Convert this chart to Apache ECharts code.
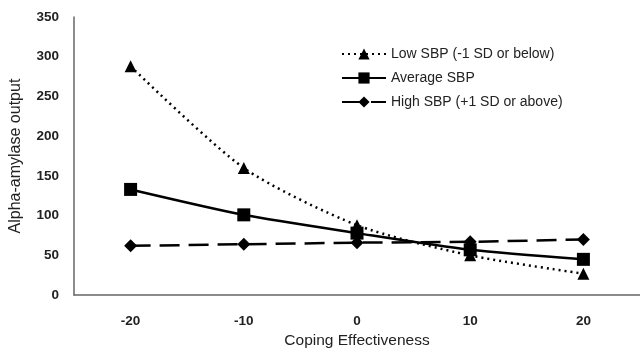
<!DOCTYPE html>
<html><head><meta charset="utf-8">
<script src="https://cdn.jsdelivr.net/npm/echarts@6/dist/echarts.min.js"></script>
<style>html,body{margin:0;padding:0;background:#fff}#c{width:640px;height:354px}</style>
</head><body><div id="c"></div>
<script>
const categories = ['-20', '-10', '0', '10', '20'];
const lowSBP = [288, 160, 88, 50, 27];
const avgSBP = [133, 101, 78, 57, 45];
const highSBP = [62, 64, 66, 67, 70];
const yTicks = [0, 50, 100, 150, 200, 250, 300, 350];

const chart = echarts.init(document.getElementById('c'));
chart.setOption({
  animation: false,
  backgroundColor: '#fff',
  textStyle: { fontFamily: 'Liberation Sans, Arial, sans-serif' },
  grid: { left: 70, right: -3, top: 17, bottom: 55, containLabel: false },
  legend: {
    orient: 'vertical', left: 336, top: 42, itemGap: 10, itemWidth: 44, itemHeight: 14,
    textStyle: { fontSize: 14, color: '#222' },
    data: ['Low SBP (-1 SD or below)', 'Average SBP', 'High SBP (+1 SD or above)']
  },
  xAxis: {
    type: 'category', data: categories, boundaryGap: true,
    name: 'Coping Effectiveness', nameLocation: 'middle', nameGap: 37,
    nameTextStyle: { fontSize: 15.5, color: '#222' },
    axisLine: { lineStyle: { color: '#666', width: 1.5 } },
    axisTick: { show: false },
    axisLabel: { fontSize: 13.5, fontWeight: 'bold', color: '#222', margin: 19 }
  },
  yAxis: {
    type: 'value', min: yTicks[0], max: yTicks[yTicks.length - 1], interval: 50,
    name: 'Alpha-amylase output', nameLocation: 'middle', nameGap: 50,
    nameTextStyle: { fontSize: 16, color: '#222' },
    axisLine: { show: true, lineStyle: { color: '#666', width: 1.5 } },
    axisTick: { show: false }, splitLine: { show: false },
    axisLabel: { fontSize: 13.5, fontWeight: 'bold', color: '#222', margin: 15 }
  },
  series: [
    { name: 'Low SBP (-1 SD or below)', type: 'line', data: lowSBP, smooth: 0.25,
      symbol: 'triangle', symbolSize: 12, itemStyle: { color: '#000' },
      lineStyle: { color: '#000', width: 2.5, type: [2, 4] } },
    { name: 'Average SBP', type: 'line', data: avgSBP, smooth: 0.25,
      symbol: 'rect', symbolSize: 13, itemStyle: { color: '#000' },
      lineStyle: { color: '#000', width: 2.5 } },
    { name: 'High SBP (+1 SD or above)', type: 'line', data: highSBP,
      symbol: 'diamond', symbolSize: 13, itemStyle: { color: '#000' },
      lineStyle: { color: '#000', width: 2.5, type: [20, 9] } }
  ]
});
</script></body></html>
